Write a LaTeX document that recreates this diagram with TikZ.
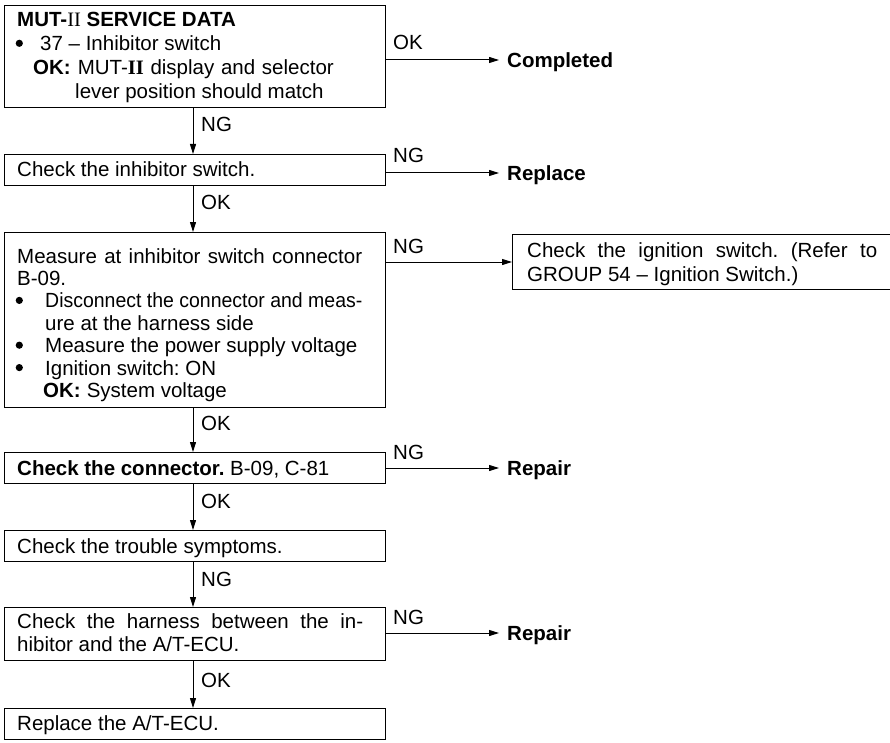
\documentclass[tikz,border=0pt]{standalone}
\usepackage{fontspec}
\usepackage{graphicx}
\setmainfont{Liberation Sans}
\newfontfamily\serifii{Liberation Serif}
\usetikzlibrary{arrows.meta}
\frenchspacing
\newcommand\tline[1]{\hbox{#1}}
\newcommand\bdot{\hspace*{-1.5pt}\raisebox{3.8pt}{\tikz\fill (0,0) circle (3.6pt);}}
\newcommand\blt[1]{\makebox[#1][l]{\bdot}}
\begin{document}
\begin{tikzpicture}[x=1pt,y=-1pt,
  box/.style={draw, line width=1pt, inner sep=0pt, anchor=north west},
  txt/.style={inner sep=0pt, anchor=base west, font=\fontsize{20.5}{23.7}\selectfont},
  lbl/.style={inner sep=0pt, anchor=base west, font=\fontsize{20.5}{23.7}\selectfont},
  tgt/.style={inner sep=0pt, anchor=west, text height=14.6pt, text depth=0pt,
              font=\fontsize{20.5}{23.7}\selectfont\bfseries},
  arr/.style={line width=1pt, -{Triangle[length=10pt,width=6pt]}}]
\useasboundingbox (0,0) rectangle (890,743);

% boxes
\node[box, minimum width=381pt, minimum height=102pt] (b1) at (4,5) {};
\node[box, minimum width=381pt, minimum height=31pt]  (b2) at (4,154) {};
\node[box, minimum width=381pt, minimum height=175pt] (b3) at (4,232) {};
\node[box, minimum width=381pt, minimum height=31pt]  (b4) at (4,452) {};
\node[box, minimum width=381pt, minimum height=31pt]  (b5) at (4,530) {};
\node[box, minimum width=381pt, minimum height=53pt]  (b6) at (4,607) {};
\node[box, minimum width=381pt, minimum height=31pt]  (b7) at (4,708) {};
\begin{scope}
\clip (0,0) rectangle (890,743);
\node[box, minimum width=383pt, minimum height=55pt] (ign) at (512,234) {};
\end{scope}

% box texts
\node[txt] (t1) at (17,27) {\vtop{\baselineskip=23.7pt
  \tline{\textbf{MUT-{\serifii\mdseries II} SERVICE DATA}}
  \tline{\blt{23pt}37 \textendash\ Inhibitor switch}
  \tline{\hspace*{16pt}\textbf{OK:}\hspace{7pt}\makebox[256pt][s]{MUT-{\serifii\bfseries II} display and selector}}
  \tline{\hspace*{58pt}lever position should match}}};
\node[txt] (t2) at (17,177) {Check the inhibitor switch.};
\node[txt] (t3) at (17,263) {\vtop{\baselineskip=22.4pt
  \tline{\makebox[345pt][s]{Measure at inhibitor switch connector}}
  \tline{B-09.}
  \tline{\blt{28pt}\scalebox{0.95}[1]{Disconnect the connector and meas-}}
  \tline{\hspace*{28pt}ure at the harness side}
  \tline{\blt{28pt}Measure the power supply voltage}
  \tline{\blt{28pt}Ignition switch: ON}
  \tline{\hspace*{26pt}\textbf{OK:}\hspace{6pt}System voltage}}};
\node[txt] (t4) at (17,475) {\textbf{Check the connector.} B-09, C-81};
\node[txt] (t5) at (17,553) {Check the trouble symptoms.};
\node[txt] (t6) at (17,628) {\vtop{\baselineskip=23.5pt
  \tline{\makebox[346pt][s]{Check the harness between the in-}}
  \tline{hibitor and the A/T-ECU.}}};
\node[txt] (t7) at (17,730) {Replace the A/T-ECU.};
\node[txt] (ti) at (527,257) {\vtop{\baselineskip=24pt
  \tline{\makebox[350pt][s]{Check the ignition switch. (Refer to}}
  \tline{GROUP 54 \textendash\ Ignition Switch.)}}};

% side targets
\node[tgt] (done) at (507,60) {Completed};
\node[tgt] (repl) at (507,173) {Replace};
\node[tgt] (rep1) at (507,468) {Repair};
\node[tgt] (rep2) at (507,633) {Repair};

% vertical connectors
\draw[arr] ([xshift=-2pt]b1.south) -- ([xshift=-2pt]b2.north);
\draw[arr] ([xshift=-2pt]b2.south) -- ([xshift=-2pt]b3.north);
\draw[arr] ([xshift=-2pt]b3.south) -- ([xshift=-2pt]b4.north);
\draw[arr] ([xshift=-2pt]b4.south) -- ([xshift=-2pt]b5.north);
\draw[arr] ([xshift=-2pt]b5.south) -- ([xshift=-2pt]b6.north);
\draw[arr] ([xshift=-2pt]b6.south) -- ([xshift=-2pt]b7.north);

% horizontal connectors
\draw[arr] (b1.east |- done.west) -- ([xshift=-8pt]done.west);
\draw[arr] (b2.east |- repl.west) -- ([xshift=-8pt]repl.west);
\draw[arr] (b3.east |- ign.west) -- (ign.west);
\draw[arr] (b4.east |- rep1.west) -- ([xshift=-8pt]rep1.west);
\draw[arr] (b6.east |- rep2.west) -- ([xshift=-8pt]rep2.west);

% connector labels
\node[lbl] (l1) at (201,132) {NG};
\node[lbl] (l2) at (201,210) {OK};
\node[lbl] (l3) at (201,430) {OK};
\node[lbl] (l4) at (201,508) {OK};
\node[lbl] (l5) at (201,586) {NG};
\node[lbl] (l6) at (201,687) {OK};
\node[lbl] (r1) at (393,50) {OK};
\node[lbl] (r2) at (393,163) {NG};
\node[lbl] (r3) at (393,253) {NG};
\node[lbl] (r4) at (393,459) {NG};
\node[lbl] (r5) at (393,624) {NG};
\end{tikzpicture}
\end{document}
